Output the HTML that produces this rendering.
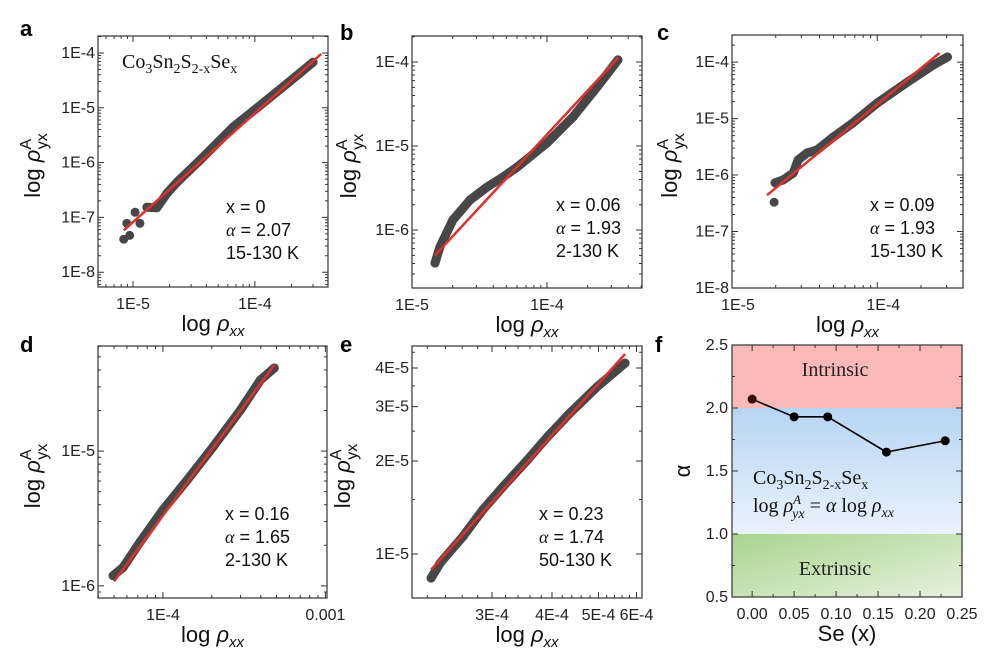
<!DOCTYPE html>
<html><head><meta charset="utf-8">
<style>
html,body{margin:0;padding:0;background:#fff;}
svg{display:block;font-family:"Liberation Sans",Arial,sans-serif;}
</style></head>
<body>
<svg id="fig" width="989" height="657" viewBox="0 0 989 657" xmlns="http://www.w3.org/2000/svg">
<defs>
<linearGradient id="gBlue" x1="0" y1="0" x2="0" y2="1"><stop offset="0" stop-color="#b7d5f3"/><stop offset="1" stop-color="#eaf2fc"/></linearGradient>
<linearGradient id="gGreen" x1="0" y1="0" x2="1" y2="1"><stop offset="0" stop-color="#a9d48d"/><stop offset="1" stop-color="#e6f1df"/></linearGradient>
</defs>
</svg>
<script>
// ---- panel a data (x = 0) ----
const aRhoXX=[8.4e-6,8.9e-6,9.4e-6,1.04e-5,1.14e-5,1.3e-5,1.57e-5,1.9e-5,2.3e-5,3.54e-5,6.6e-5,1.25e-4,2.34e-4,3.0e-4];
const aRhoYX=[4.0e-8,7.8e-8,4.7e-8,1.24e-7,7.8e-8,1.53e-7,1.5e-7,2.75e-7,4.4e-7,1.1e-6,4.4e-6,1.38e-5,4.3e-5,6.8e-5];
const aFitX=[8.4e-6,3.5e-4];
const aFitY=[5.8e-8,9.6e-5];
// ---- panel b data (x = 0.06) ----
const bRhoXX=[1.48e-5,1.61e-5,2.01e-5,2.69e-5,3.6e-5,4.72e-5,6.0e-5,1.0e-4,1.56e-4,2.35e-4,3.36e-4];
const bRhoYX=[4.05e-7,6.3e-7,1.32e-6,2.28e-6,3.25e-6,4.28e-6,5.6e-6,1.09e-5,2.22e-5,5.05e-5,1.06e-4];
const bFitX=[1.48e-5,3.36e-4];
const bFitY=[5.0e-7,1.12e-4];
// ---- panel c data (x = 0.09) ----
const cRhoXX=[1.95e-5,1.98e-5,2.25e-5,2.64e-5,2.85e-5,3.29e-5,3.85e-5,4.97e-5,6.8e-5,1.0e-4,1.69e-4,2.43e-4,3.04e-4];
const cRhoYX=[3.3e-7,7.3e-7,8.2e-7,1.09e-6,1.85e-6,2.47e-6,2.79e-6,4.7e-6,8.4e-6,1.89e-5,4.8e-5,8.9e-5,1.23e-4];
const cFitX=[1.74e-5,2.68e-4];
const cFitY=[4.4e-7,1.45e-4];
// ---- panel d data (x = 0.16) ----
const dRhoXX=[4.93e-5,5.68e-5,7.2e-5,1.0e-4,1.41e-4,2.04e-4,3.0e-4,3.98e-4,4.85e-4];
const dRhoYX=[1.19e-6,1.37e-6,2.1e-6,3.67e-6,6.1e-6,1.08e-5,2.02e-5,3.37e-5,4.14e-5];
const dFitX=[5.0e-5,4.85e-4];
const dFitY=[1.08e-6,4.36e-5];
// ---- panel e data (x = 0.23) ----
const eRhoXX=[2.24e-4,2.34e-4,2.61e-4,2.87e-4,3.16e-4,3.55e-4,3.91e-4,4.36e-4,4.96e-4,5.68e-4];
const eRhoYX=[8.36e-6,9.35e-6,1.14e-5,1.39e-5,1.65e-5,2.01e-5,2.39e-5,2.86e-5,3.47e-5,4.15e-5];
const eFitX=[2.24e-4,5.68e-4];
const eFitY=[8.9e-6,4.44e-5];
// ---- panel f data ----
const fSe=[0,0.05,0.09,0.16,0.23];
const fAlpha=[2.07,1.93,1.93,1.65,1.74];
const fXTicks=[0,0.05,0.10,0.15,0.20,0.25];
const fYTicks=[0.5,1.0,1.5,2.0,2.5];
// tick label arrays
const abcXTickVals=[1e-5,1e-4];
const abcXTickLabels=["1E-5","1E-4"];
const acYTickVals=[1e-8,1e-7,1e-6,1e-5,1e-4];
const acYTickLabels=["1E-8","1E-7","1E-6","1E-5","1E-4"];
const bYTickVals=[1e-6,1e-5,1e-4];
const bYTickLabels=["1E-6","1E-5","1E-4"];
const dXTickVals=[1e-4,1e-3];
const dXTickLabels=["1E-4","0.001"];
const dYTickVals=[1e-6,1e-5];
const dYTickLabels=["1E-6","1E-5"];
const eXTickVals=[3e-4,4e-4,5e-4,6e-4];
const eXTickLabels=["3E-4","4E-4","5E-4","6E-4"];
const eYTickVals=[1e-5,2e-5,3e-5,4e-5];
const eYTickLabels=["1E-5","2E-5","3E-5","4E-5"];

const NS="http://www.w3.org/2000/svg";
const svg=document.getElementById('fig');
function mk(tag,attrs,parent){const e=document.createElementNS(NS,tag);for(const k in attrs)e.setAttribute(k,attrs[k]);(parent||svg).appendChild(e);return e;}
function logMinors(lo,hi){const r=[];for(let p=Math.floor(lo)-1;p<=Math.ceil(hi);p++){for(let k=1;k<=9;k++){const v=Math.log10(k*Math.pow(10,p));if(v>=lo&&v<=hi)r.push(v);}}return r;}
function linMinors(lo,hi,step){const r=[];const s=Math.ceil(lo/step);for(let i=s;i*step<=hi+1e-9;i++)r.push(Math.log10(i*step));return r;}

function panel(c){
  const g=mk('g',{});
  
  
  const sx=v=>c.l+(Math.log10(v)-c.x0)/(c.x1-c.x0)*(c.r-c.l);
  const sy=v=>c.b-(Math.log10(v)-c.y0)/(c.y1-c.y0)*(c.b-c.t);
  const lx=lv=>c.l+(lv-c.x0)/(c.x1-c.x0)*(c.r-c.l);
  const ly=lv=>c.b-(lv-c.y0)/(c.y1-c.y0)*(c.b-c.t);
  const xm=c.xMinor||logMinors(c.x0,c.x1), ym=c.yMinor||logMinors(c.y0,c.y1);
  let d='';
  xm.forEach(v=>{const x=lx(v);d+=`M${x},${c.b}v-3M${x},${c.t}v3`;});
  ym.forEach(v=>{const y=ly(v);d+=`M${c.l},${y}h3M${c.r},${y}h-3`;});
  c.xt.forEach(v=>{const x=sx(v);d+=`M${x},${c.b}v-6M${x},${c.t}v6`;});
  c.yt.forEach(v=>{const y=sy(v);d+=`M${c.l},${y}h6M${c.r},${y}h-6`;});
  const tk=mk('path',{d:d,stroke:'#333','stroke-width':1,fill:'none'},g);
  
  
  const start=c.lineStart||0;
  let pts=c.X.slice(start).map((v,i)=>sx(v).toFixed(1)+','+sy(c.Y[i+start]).toFixed(1)).join(' ');
  const pl=mk('polyline',{points:pts,fill:'none',stroke:'#474747','stroke-width':9,'stroke-linejoin':'round','stroke-linecap':'round'},g);
  
  
  c.X.forEach((v,i)=>{
    const ci=mk('circle',{cx:sx(v),cy:sy(c.Y[i]),r:4.5,fill:'#474747'},g);
    
    
  });
  const fit=mk('line',{x1:sx(c.FX[0]),y1:sy(c.FY[0]),x2:sx(c.FX[1]),y2:sy(c.FY[1]),stroke:'#e0302c','stroke-width':2.5},g);
  
  
  const fr=mk('rect',{x:c.l,y:c.t,width:c.r-c.l,height:c.b-c.t,fill:'none',stroke:'#333','stroke-width':1.2},g);
  
  
  c.xt.forEach((v,i)=>{const t=mk('text',{x:sx(v)+(c.xlOff||0),y:c.b+22,'text-anchor':'middle','font-size':16,fill:'#222'},g);t.textContent=c.xl[i];
    
    });
  c.yt.forEach((v,i)=>{const t=mk('text',{x:c.l-3,y:sy(v)+5,'text-anchor':'end','font-size':16,fill:'#222'},g);t.textContent=c.yl[i];
    
    });
  const xt=mk('text',{x:(c.l+c.r)/2,y:c.b+44,'text-anchor':'middle','font-size':22,fill:'#111'},g);
  xt.innerHTML='log <tspan font-style="italic">ρ</tspan><tspan font-size="15" font-style="italic" dy="5">xx</tspan>';
  
  
  const yt=mk('text',{x:0,y:0,'text-anchor':'middle','font-size':22,fill:'#111',transform:`translate(${c.ytx},${(c.t+c.b)/2+4}) rotate(-90)`},g);
  yt.innerHTML='log <tspan font-style="italic">ρ</tspan><tspan font-size="16" dy="-9">A</tspan><tspan font-size="16" dx="-10" dy="16">yx</tspan>';
  
  
  const lines=[c.ann[0],'α = '+c.ann[1],c.ann[2]];
  lines.forEach((s,i)=>{const t=mk('text',{x:c.ax,y:c.ay+i*23,'font-size':18,fill:'#111'},g);
    if(i===1)t.innerHTML='<tspan font-family="Liberation Serif" font-style="italic">α</tspan> = '+c.ann[1];else t.textContent=s;
    
    });
  const L=mk('text',{x:c.lx,y:c.ly,'font-size':22,'font-weight':'bold',fill:'#000'},g);L.textContent=c.letter;
  
  
}

panel({name:'panel-a',letter:'a',lx:20,ly:36,l:98,r:328,t:36,b:287,x0:-5.287,x1:-3.40,y0:-8.27,y1:-3.69,
  xt:abcXTickVals,xl:abcXTickLabels,yt:acYTickVals,yl:acYTickLabels,X:aRhoXX,Y:aRhoYX,FX:aFitX,FY:aFitY,lineStart:5,
  ytx:40,ann:['x = 0','2.07','15-130 K'],ax:226,ay:213});
panel({name:'panel-b',letter:'b',lx:340,ly:40,l:412,r:642,t:36,b:288,x0:-5,x1:-3.296,y0:-6.69,y1:-3.69,
  xt:abcXTickVals,xl:abcXTickLabels,yt:bYTickVals,yl:bYTickLabels,X:bRhoXX,Y:bRhoYX,FX:bFitX,FY:bFitY,
  ytx:356,ann:['x = 0.06','1.93','2-130 K'],ax:556,ay:211});
panel({name:'panel-c',letter:'c',lx:657,ly:40,l:732,r:963,t:35,b:288,x0:-5,x1:-3.41,y0:-8,y1:-3.52,
  xt:abcXTickVals,xl:abcXTickLabels,xlOff:6,yt:acYTickVals,yl:acYTickLabels,X:cRhoXX,Y:cRhoYX,FX:cFitX,FY:cFitY,lineStart:1,
  ytx:677,ann:['x = 0.09','1.93','15-130 K'],ax:870,ay:211});
panel({name:'panel-d',letter:'d',lx:20,ly:352,l:98,r:327,t:346,b:598,x0:-4.40,x1:-2.99,y0:-6.09,y1:-4.22,
  xt:dXTickVals,xl:dXTickLabels,yt:dYTickVals,yl:dYTickLabels,X:dRhoXX,Y:dRhoYX,FX:dFitX,FY:dFitY,
  ytx:40,ann:['x = 0.16','1.65','2-130 K'],ax:225,ay:520});
panel({name:'panel-e',letter:'e',lx:340,ly:352,l:412,r:642,t:346,b:598,x0:-3.6896,x1:-3.2104,y0:-5.1424,y1:-4.3267,
  xt:eXTickVals,xl:eXTickLabels,yt:eYTickVals,yl:eYTickLabels,X:eRhoXX,Y:eRhoYX,FX:eFitX,FY:eFitY,
  xMinor:linMinors(2.04e-4,6.16e-4,2e-5),yMinor:linMinors(7.2e-6,4.71e-5,5e-6),
  ytx:350,ann:['x = 0.23','1.74','50-130 K'],ax:539,ay:520});

// ---- panel f ----
(function(){
  const l=732,r=962,t=345,b=597,x0=-0.024,x1=0.25,y0=0.5,y1=2.5;
  const sx=v=>l+(v-x0)/(x1-x0)*(r-l), sy=v=>b-(v-y0)/(y1-y0)*(b-t);
  const g=mk('g',{});
  
  
  const r1=mk('rect',{x:l,y:sy(2.5),width:r-l,height:sy(2.0)-sy(2.5),fill:'#f9b9b9'},g);
  
  
  const r2=mk('rect',{x:l,y:sy(2.0),width:r-l,height:sy(1.0)-sy(2.0),fill:'url(#gBlue)'},g);
  
  
  const r3=mk('rect',{x:l,y:sy(1.0),width:r-l,height:sy(0.5)-sy(1.0),fill:'url(#gGreen)'},g);
  
  
  let d='';
  fXTicks.forEach(v=>{const x=sx(v);d+=`M${x},${b}v-6M${x},${t}v6`;const m=sx(v+0.025);if(v+0.025<x1)d+=`M${m},${b}v-3M${m},${t}v3`;});
  fYTicks.forEach(v=>{const y=sy(v);d+=`M${l},${y}h6M${r},${y}h-6`;const m=sy(v+0.25);if(v+0.25<y1)d+=`M${l},${m}h3M${r},${m}h-3`;});
  const tk=mk('path',{d:d,stroke:'#333','stroke-width':1,fill:'none'},g);
  
  
  const pl=mk('polyline',{points:fSe.map((v,i)=>sx(v)+','+sy(fAlpha[i])).join(' '),fill:'none',stroke:'#000','stroke-width':1.6},g);
  
  
  fSe.forEach((v,i)=>{const c=mk('circle',{cx:sx(v),cy:sy(fAlpha[i]),r:4.5,fill:i===0?'#3a0a0a':'#000'},g);
    
    });
  const fr=mk('rect',{x:l,y:t,width:r-l,height:b-t,fill:'none',stroke:'#333','stroke-width':1.2},g);
  
  
  fXTicks.forEach(v=>{const tx=mk('text',{x:sx(v),y:b+22,'text-anchor':'middle','font-size':16,fill:'#222'},g);tx.textContent=v.toFixed(2);
    
    });
  fYTicks.forEach(v=>{const tx=mk('text',{x:l-4,y:sy(v)+5,'text-anchor':'end','font-size':16,fill:'#222'},g);tx.textContent=v.toFixed(1);
    
    });
  const xt=mk('text',{x:847,y:b+44,'text-anchor':'middle','font-size':22,fill:'#111'},g);xt.textContent='Se (x)';
  
  
  const yt=mk('text',{x:0,y:0,'text-anchor':'middle','font-size':22,fill:'#111',transform:`translate(690,${(t+b)/2}) rotate(-90)`},g);yt.textContent='α';
  
  
  const t1=mk('text',{x:835,y:376,'text-anchor':'middle','font-size':20,'font-family':'Liberation Serif',fill:'#222'},g);t1.textContent='Intrinsic';
  
  
  const t2=mk('text',{x:835,y:575,'text-anchor':'middle','font-size':20,'font-family':'Liberation Serif',fill:'#222'},g);t2.textContent='Extrinsic';
  
  
  const t3=mk('text',{x:753,y:484,'font-size':20,'font-family':'Liberation Serif',fill:'#111'},g);
  t3.innerHTML='Co<tspan font-size="14" dy="5">3</tspan><tspan dy="-5">Sn</tspan><tspan font-size="14" dy="5">2</tspan><tspan dy="-5">S</tspan><tspan font-size="14" dy="5">2-x</tspan><tspan dy="-5">Se</tspan><tspan font-size="14" dy="5">x</tspan>';
  
  
  const t4=mk('text',{x:753,y:512,'font-size':20,'font-family':'Liberation Serif',fill:'#111'},g);
  t4.innerHTML='log <tspan font-style="italic">ρ</tspan><tspan font-size="13" font-style="italic" dy="-8">A</tspan><tspan font-size="14" font-style="italic" dx="-9" dy="14">yx</tspan><tspan dy="-6"> = </tspan><tspan font-style="italic">α</tspan> log <tspan font-style="italic">ρ</tspan><tspan font-size="14" font-style="italic" dy="5">xx</tspan>';
  
  
  const L=mk('text',{x:655,y:352,'font-size':22,'font-weight':'bold',fill:'#000'},g);L.textContent='f';
  
  
})();

const fa=mk('text',{x:122,y:68,'font-size':20,'font-family':'Liberation Serif',fill:'#111'});
fa.innerHTML='Co<tspan font-size="14" dy="5">3</tspan><tspan dy="-5">Sn</tspan><tspan font-size="14" dy="5">2</tspan><tspan dy="-5">S</tspan><tspan font-size="14" dy="5">2-x</tspan><tspan dy="-5">Se</tspan><tspan font-size="14" dy="5">x</tspan>';


</script>
</body></html>
